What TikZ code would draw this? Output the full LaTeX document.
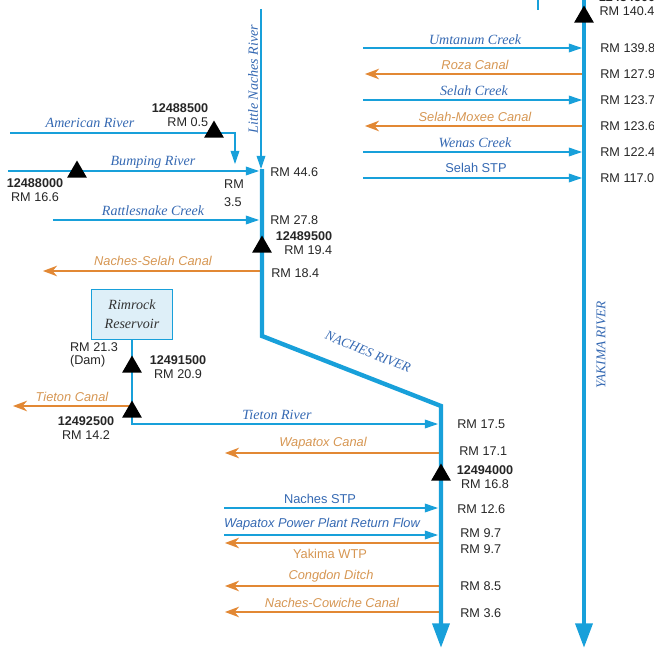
\documentclass[tikz,border=0pt]{standalone}
\usepackage{fontspec}
\setmainfont{Liberation Serif}
\setsansfont{Liberation Sans}
\usetikzlibrary{arrows.meta,shapes.geometric}
\definecolor{riverblue}{RGB}{24,160,218}
\definecolor{textblue}{RGB}{52,104,178}
\definecolor{canalorange}{RGB}{226,136,52}
\definecolor{textorange}{RGB}{214,150,82}
\definecolor{resfill}{RGB}{222,239,248}

\begin{document}
\begin{tikzpicture}[x=0.02cm, y=-0.02cm]
      \tikzstyle{river} = [draw=riverblue, line width=2.5pt, -{Triangle[length=14pt,width=9.5pt]}]
      \tikzstyle{inflow} = [draw=riverblue, line width=0.6pt, -{Triangle[length=7.5pt,width=5pt]}]
      \tikzstyle{outflow} = [draw=canalorange, line width=0.9pt, -{Stealth[length=8pt,width=6pt,inset=2.5pt]}]
      \tikzstyle{station} = [regular polygon, regular polygon sides=3, fill=black, inner sep=0pt, minimum size=0.46cm]
      \tikzstyle{rm} = [font=\sffamily\fontsize{7.2}{7.6}\selectfont, text=black!85, inner sep=0pt]
      \tikzstyle{gage} = [rm, align=center]
      \tikzstyle{creek} = [font=\itshape\fontsize{8}{9}\selectfont, text=textblue, inner sep=0pt]
      \tikzstyle{canal} = [font=\sffamily\itshape\fontsize{7.3}{8}\selectfont, text=textorange, inner sep=0pt]
      \tikzstyle{plant} = [font=\sffamily\fontsize{7.3}{8}\selectfont, inner sep=0pt]
      \tikzstyle{rivername} = [font=\itshape\fontsize{7.6}{8}\selectfont, text=textblue, inner sep=0pt]
      \tikzstyle{reservoir} = [rectangle, draw=riverblue, fill=resfill, thin, align=center,
                               minimum width=1.62cm, minimum height=1cm,
                               font=\itshape\fontsize{8}{10.5}\selectfont, text=black!80]
      \useasboundingbox (0,0) rectangle (654,649);

      % main stems
      \coordinate (yakTop) at (584,0);
      \coordinate (yakEnd) at (584,648);
      \coordinate (yakL) at (582,0);
      \coordinate (naTop) at (262,169);
      \coordinate (naBendA) at (262,336);
      \coordinate (naBendB) at (441,406);
      \coordinate (naEnd) at (441,648);
      \coordinate (naUL) at (259,0);
      \coordinate (naL) at (438,0);

      % Yakima River
      \coordinate (upstream) at (538,0);
      \coordinate (umtanum) at (363,48);
      \coordinate (roza) at (365,74);
      \coordinate (selahCk) at (363,100);
      \coordinate (moxee) at (365,126);
      \coordinate (wenas) at (363,152);
      \coordinate (selahStp) at (363,178);
      \draw [riverblue, line width=0.6pt] (upstream) -- ++(0,10);
      \path [inflow] (umtanum) -- (umtanum -| yakL);
      \path [outflow] (roza -| yakTop) -- (roza);
      \path [inflow] (selahCk) -- (selahCk -| yakL);
      \path [outflow] (moxee -| yakTop) -- (moxee);
      \path [inflow] (wenas) -- (wenas -| yakL);
      \path [inflow] (selahStp) -- (selahStp -| yakL);
      \node [creek] (umtanumLbl) at (475,40) {Umtanum Creek};
      \node [canal] (rozaLbl) at (475,65) {Roza Canal};
      \node [creek] (selahCkLbl) at (474,91) {Selah Creek};
      \node [canal] (moxeeLbl) at (475,117) {Selah-Moxee Canal};
      \node [creek] (wenasLbl) at (475,143) {Wenas Creek};
      \node [plant, text=textblue] (selahStpLbl) at (476,168) {Selah STP};
      \node [rm, anchor=west] (rm1398) at (600,48) {RM 139.8};
      \node [rm, anchor=west] (rm1279) at (600,74) {RM 127.9};
      \node [rm, anchor=west] (rm1237) at (600,100) {RM 123.7};
      \node [rm, anchor=west] (rm1236) at (600,126) {RM 123.6};
      \node [rm, anchor=west] (rm1224) at (600,152) {RM 122.4};
      \node [rm, anchor=west] (rm1170) at (600,178) {RM 117.0};

      % upper Naches
      \coordinate (littleTop) at (261,9);
      \coordinate (american) at (10,133);
      \coordinate (americanBend) at (235,133);
      \coordinate (americanMouth) at (235,164);
      \coordinate (bumping) at (8,171);
      \coordinate (rattlesnake) at (53,220);
      \coordinate (selahCanal) at (43,271);
      \path [inflow] (littleTop) -- (littleTop |- naTop);
      \path [inflow] (american) -- (americanBend) -- (americanMouth);
      \path [inflow] (bumping) -- (bumping -| naUL);
      \path [inflow] (rattlesnake) -- (rattlesnake -| naUL);
      \path [outflow] (selahCanal -| naTop) -- (selahCanal);
      \node [creek, rotate=90] (littleLbl) at (253,79) {Little Naches River};
      \node [creek] (americanLbl) at (90,123) {American River};
      \node [creek] (bumpingLbl) at (153,162) {Bumping River};
      \node [creek] (rattlesnakeLbl) at (153,211) {Rattlesnake Creek};
      \node [canal] (selahCanalLbl) at (153,261) {Naches-Selah Canal};
      \node [rm, align=left] (rm35) at (234,193) {RM\\[2.5pt]3.5};
      \node [rm, anchor=west] (rm446) at (270,172) {RM 44.6};
      \node [rm, anchor=west] (rm278) at (270,220) {RM 27.8};
      \node [rm, anchor=west] (rm184) at (271,273) {RM 18.4};

      % Tieton River
      \node [reservoir] (rimrock) at (132,314) {Rimrock\\Reservoir};
      \coordinate (tietonBend) at (132,424);
      \coordinate (tietonCanal) at (13,406);
      \path [outflow] (tietonCanal -| rimrock) -- (tietonCanal);
      \path [inflow] (rimrock.south) -- (tietonBend) -- (tietonBend -| naL);
      \node [canal] (tietonCanalLbl) at (72,397) {Tieton Canal};
      \node [creek] (tietonLbl) at (277,415) {Tieton River};
      \node [rm, align=left] (rm213) at (94,355) {RM 21.3\\(Dam)};

      % lower Naches
      \coordinate (wapatoxCanal) at (225,453);
      \coordinate (nachesStp) at (224,508);
      \coordinate (powerPlant) at (224,535);
      \coordinate (yakimaWtp) at (225,543);
      \coordinate (congdon) at (225,586);
      \coordinate (cowiche) at (225,612);
      \path [outflow] (wapatoxCanal -| naEnd) -- (wapatoxCanal);
      \path [inflow] (nachesStp) -- (nachesStp -| naL);
      \path [inflow] (powerPlant) -- (powerPlant -| naL);
      \path [outflow] (yakimaWtp -| naEnd) -- (yakimaWtp);
      \path [outflow] (congdon -| naEnd) -- (congdon);
      \path [outflow] (cowiche -| naEnd) -- (cowiche);
      \node [canal] (wapatoxCanalLbl) at (323,443) {Wapatox Canal};
      \node [plant, text=textblue] (nachesStpLbl) at (320,499) {Naches STP};
      \node [plant, font=\sffamily\itshape\fontsize{7.3}{8}\selectfont, text=textblue] (powerPlantLbl) at (322,524) {Wapatox Power Plant Return Flow};
      \node [plant, text=textorange] (yakimaWtpLbl) at (330,554) {Yakima WTP};
      \node [canal] (congdonLbl) at (331,576) {Congdon Ditch};
      \node [canal] (cowicheLbl) at (332,603) {Naches-Cowiche Canal};
      \node [rm, anchor=west] (rm175) at (457,424) {RM 17.5};
      \node [rm, anchor=west] (rm171) at (459,451) {RM 17.1};
      \node [rm, anchor=west] (rm126) at (457,509) {RM 12.6};
      \node [rm, anchor=west] (rm97a) at (460,533) {RM 9.7};
      \node [rm, anchor=west] (rm97b) at (460,549) {RM 9.7};
      \node [rm, anchor=west] (rm85) at (460,586) {RM 8.5};
      \node [rm, anchor=west] (rm36) at (460,613) {RM 3.6};

      % the two rivers
      \path [river] (yakTop) -- (yakEnd);
      \path [river] (naTop) -- (naBendA) -- (naBendB) -- (naEnd);
      \node [rivername, rotate=-22] (nachesLbl) at (368,352) {NACHES RIVER};
      \node [rivername, rotate=90] (yakimaLbl) at (601,345) {YAKIMA RIVER};

      % gaging stations
      \node [station] (s12484500) at (584,17) {};
      \node [station] (s12488500) at (214,132) {};
      \node [station] (s12488000) at (77,172) {};
      \node [station] (s12489500) at (262,247) {};
      \node [station] (s12491500) at (132,367) {};
      \node [station] (s12492500) at (132,412) {};
      \node [station] (s12494000) at (441,475) {};
      \node [gage] (g12484500) at (627,4) {\textbf{12484500}\\RM 140.4};
      \node [gage, align=right] (g12488500) at (180,115) {\textbf{12488500}\\RM 0.5};
      \node [gage] (g12488000) at (35,190) {\textbf{12488000}\\RM 16.6};
      \node [gage, align=right] (g12489500) at (304,243) {\textbf{12489500}\\RM 19.4};
      \node [gage] (g12491500) at (178,367) {\textbf{12491500}\\RM 20.9};
      \node [gage] (g12492500) at (86,428) {\textbf{12492500}\\RM 14.2};
      \node [gage] (g12494000) at (485,477) {\textbf{12494000}\\RM 16.8};
\end{tikzpicture}
\end{document}
